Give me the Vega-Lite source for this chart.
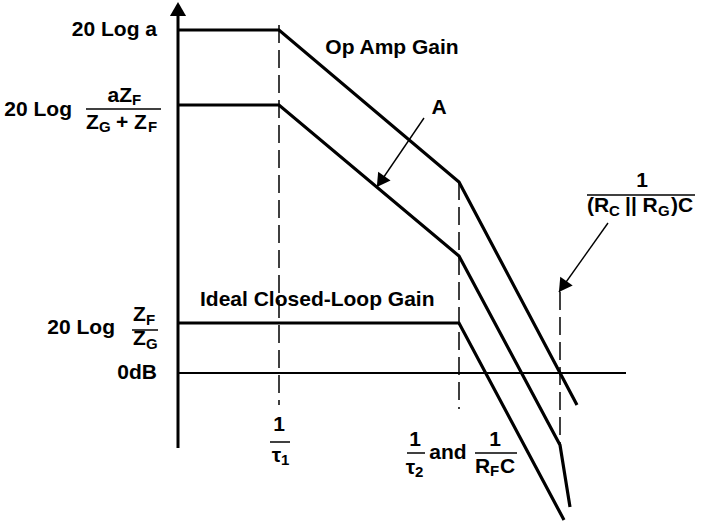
{
  "$schema": "https://vega.github.io/schema/vega-lite/v6.json",
  "width": 708,
  "height": 524,
  "autosize": {"type": "none"},
  "padding": 0,
  "background": "white",
  "config": {"view": {"stroke": null}},
  "datasets": {
    "curves": [
      {"curve": "Op Amp Gain", "i": 0, "f": 0, "g": 343},
      {"curve": "Op Amp Gain", "i": 1, "f": 101, "g": 343},
      {"curve": "Op Amp Gain", "i": 2, "f": 281, "g": 191},
      {"curve": "Op Amp Gain", "i": 3, "f": 399, "g": -32},
      {"curve": "A", "i": 0, "f": 0, "g": 268},
      {"curve": "A", "i": 1, "f": 101, "g": 268},
      {"curve": "A", "i": 2, "f": 281, "g": 117},
      {"curve": "A", "i": 3, "f": 382, "g": -72},
      {"curve": "A", "i": 4, "f": 392, "g": -134},
      {"curve": "Ideal Closed-Loop Gain", "i": 0, "f": 0, "g": 50},
      {"curve": "Ideal Closed-Loop Gain", "i": 1, "f": 281, "g": 50},
      {"curve": "Ideal Closed-Loop Gain", "i": 2, "f": 386, "g": -147}
    ],
    "yaxis": [{"f": 0, "g": 360, "g2": -75}],
    "yaxisHead": [{"f": 0, "g": 364}],
    "zerodb": [{"f": 0, "f2": 448, "g": 0}],
    "guides": [
      {"f": 101, "g": 348, "g2": -32},
      {"f": 281, "g": 191, "g2": -36},
      {"f": 382, "g": 81, "g2": -72}
    ],
    "pointers": [
      {"f": 246, "g": 255, "f2": 199, "g2": 186},
      {"f": 430, "g": 150, "f2": 381, "g2": 81}
    ],
    "heads": [
      {"f": 202.6, "g": 191.5},
      {"f": 384.7, "g": 86.5}
    ],
    "bars": [
      {"f": -92, "f2": -17, "g": 264},
      {"f": -46, "f2": -20, "g": 43},
      {"f": 92, "f2": 112, "g": -69},
      {"f": 229, "f2": 247, "g": -80},
      {"f": 297, "f2": 339, "g": -80},
      {"f": 409, "f2": 517, "g": 178}
    ],
    "labelsRight": [
      {"text": "20 Log a", "f": -21, "g": 343},
      {"text": "20 Log", "f": -106, "g": 263},
      {"text": "20 Log", "f": -63, "g": 45},
      {"text": "0dB", "f": -21, "g": 0},
      {"text": "aZ", "f": -46, "g": 277},
      {"text": "τ", "f": 103, "g": -83},
      {"text": "τ", "f": 237, "g": -95}
    ],
    "labelsCenter": [
      {"text": "Op Amp Gain", "f": 214, "g": 325},
      {"text": "A", "f": 261, "g": 265},
      {"text": "and", "f": 270, "g": -80},
      {"text": "1", "f": 101, "g": -52},
      {"text": "1", "f": 237, "g": -67},
      {"text": "1", "f": 317, "g": -67},
      {"text": "1", "f": 464, "g": 192}
    ],
    "labelsLeft": [
      {"text": "Ideal Closed-Loop Gain", "f": 22, "g": 73},
      {"text": "Z", "f": -92, "g": 250},
      {"text": "+ Z", "f": -62, "g": 250},
      {"text": "Z", "f": -45, "g": 58},
      {"text": "Z", "f": -45, "g": 34},
      {"text": "R", "f": 297, "g": -94},
      {"text": "C", "f": 322, "g": -94},
      {"text": "(R", "f": 409, "g": 167},
      {"text": "|| R", "f": 447, "g": 167},
      {"text": ")C", "f": 493, "g": 167}
    ],
    "subs": [
      {"text": "F", "f": -46, "g": 273},
      {"text": "G", "f": -79, "g": 246},
      {"text": "F", "f": -30, "g": 246},
      {"text": "F", "f": -32, "g": 53},
      {"text": "G", "f": -32, "g": 29},
      {"text": "1", "f": 103, "g": -87},
      {"text": "2", "f": 237, "g": -99},
      {"text": "F", "f": 312, "g": -98},
      {"text": "C", "f": 431, "g": 162},
      {"text": "G", "f": 480, "g": 162}
    ]
  },
  "encoding": {
    "x": {"field": "f", "type": "quantitative", "axis": null, "scale": {"domain": [-178, 530], "nice": false, "zero": false}},
    "y": {"field": "g", "type": "quantitative", "axis": null, "scale": {"domain": [-151, 373], "nice": false, "zero": false}}
  },
  "layer": [
    {
      "data": {"name": "guides"},
      "mark": {"type": "rule", "color": "black", "strokeWidth": 1.5, "strokeDash": [18, 7]},
      "encoding": {"y2": {"field": "g2"}}
    },
    {
      "data": {"name": "yaxis"},
      "mark": {"type": "rule", "color": "black", "strokeWidth": 3},
      "encoding": {"y2": {"field": "g2"}}
    },
    {
      "data": {"name": "yaxisHead"},
      "mark": {"type": "point", "shape": "triangle-up", "filled": true, "color": "black", "opacity": 1, "size": 260, "strokeWidth": 0}
    },
    {
      "data": {"name": "zerodb"},
      "mark": {"type": "rule", "color": "black", "strokeWidth": 2.2},
      "encoding": {"x2": {"field": "f2"}}
    },
    {
      "data": {"name": "curves"},
      "mark": {"type": "line", "color": "black", "strokeWidth": 3.2, "strokeJoin": "miter"},
      "encoding": {
        "detail": {"field": "curve"},
        "order": {"field": "i", "type": "quantitative"}
      }
    },
    {
      "data": {"name": "pointers"},
      "mark": {"type": "rule", "color": "black", "strokeWidth": 1.4},
      "encoding": {"x2": {"field": "f2"}, "y2": {"field": "g2"}}
    },
    {
      "data": {"name": "heads"},
      "mark": {"type": "point", "shape": "triangle-up", "angle": 215, "filled": true, "color": "black", "opacity": 1, "size": 230, "strokeWidth": 0}
    },
    {
      "data": {"name": "bars"},
      "mark": {"type": "rule", "color": "black", "strokeWidth": 1.5},
      "encoding": {"x2": {"field": "f2"}}
    },
    {
      "data": {"name": "labelsRight"},
      "mark": {"type": "text", "align": "right", "baseline": "middle", "font": "Liberation Sans", "fontWeight": "bold", "fontSize": 21, "color": "black"},
      "encoding": {"text": {"field": "text"}}
    },
    {
      "data": {"name": "labelsCenter"},
      "mark": {"type": "text", "align": "center", "baseline": "middle", "font": "Liberation Sans", "fontWeight": "bold", "fontSize": 21, "color": "black"},
      "encoding": {"text": {"field": "text"}}
    },
    {
      "data": {"name": "labelsLeft"},
      "mark": {"type": "text", "align": "left", "baseline": "middle", "font": "Liberation Sans", "fontWeight": "bold", "fontSize": 21, "color": "black"},
      "encoding": {"text": {"field": "text"}}
    },
    {
      "data": {"name": "subs"},
      "mark": {"type": "text", "align": "left", "baseline": "middle", "font": "Liberation Sans", "fontWeight": "bold", "fontSize": 15, "color": "black"},
      "encoding": {"text": {"field": "text"}}
    }
  ]
}
